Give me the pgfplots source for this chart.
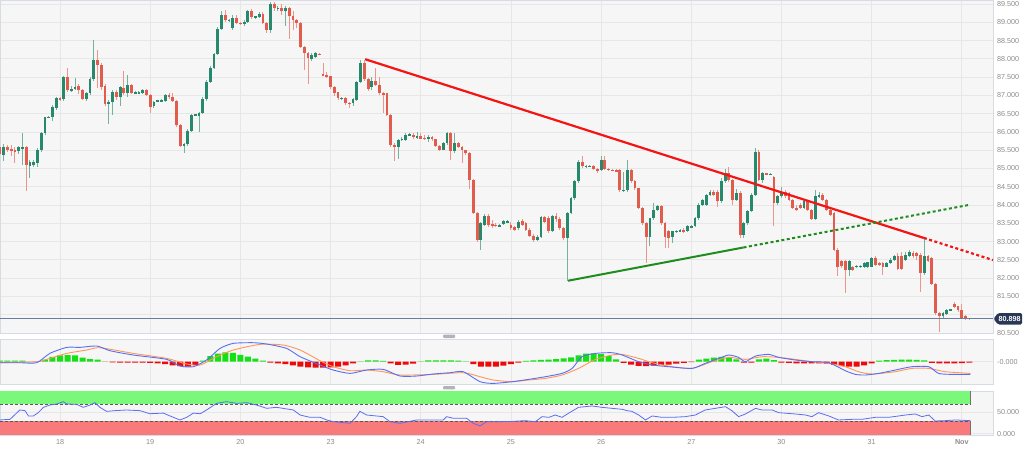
\documentclass[border=0pt]{standalone}
\usepackage{pgfplots}
\pgfplotsset{compat=1.18}
\usepackage{pgfplotstable}
\usepackage{fontspec}
\setmainfont{Liberation Sans}
\definecolor{bgcol}{RGB}{246,246,246}
\definecolor{gridcol}{RGB}{231,231,231}
\definecolor{bordercol}{RGB}{214,219,228}
\definecolor{upcol}{RGB}{38,137,108}
\definecolor{dncol}{RGB}{226,92,78}
\definecolor{lblcol}{RGB}{140,140,140}
\definecolor{tagcol}{RGB}{40,56,86}
\definecolor{pricecol}{RGB}{105,125,160}
\definecolor{trred}{RGB}{245,20,20}
\definecolor{trgreen}{RGB}{30,140,30}
\definecolor{macdblue}{RGB}{90,110,245}
\definecolor{macdorange}{RGB}{255,150,90}
\definecolor{histgreen}{RGB}{20,225,20}
\definecolor{histred}{RGB}{238,10,10}
\definecolor{bandgreen}{RGB}{122,248,122}
\definecolor{bandred}{RGB}{248,122,122}
\definecolor{handlecol}{RGB}{180,180,180}

\pgfplotstableread{
t o h l c
-16 85.60 85.65 85.25 85.40
-15 85.37 85.68 85.20 85.60
-14 85.60 85.64 85.45 85.51
-13 85.53 85.64 85.33 85.50
-12 85.50 85.58 85.15 85.47
-11 85.47 85.62 85.40 85.58
-10 85.55 85.96 85.10 85.60
-9 85.60 85.62 84.39 85.10
-8 85.06 85.23 84.74 85.19
-7 85.10 85.22 85.05 85.17
-6 85.15 85.55 85.05 85.51
-5 85.51 86.01 85.45 85.98
-4 85.98 86.42 85.93 86.40
-3 86.40 86.44 86.38 86.41
-2 86.40 86.73 86.30 86.68
-1 86.65 86.97 86.60 86.94
0 86.92 86.96 86.85 86.90
1 86.90 87.52 86.85 87.50
2 87.50 87.74 87.10 87.15
3 87.15 87.25 87.10 87.17
4 87.17 87.47 87.14 87.24
5 87.26 87.30 87.05 87.15
6 87.15 87.18 86.88 86.90
7 86.90 87.10 86.85 87.06
8 87.06 87.50 87.00 87.45
9 87.45 88.52 87.40 87.97
10 87.97 88.24 87.20 87.83
11 87.83 87.88 87.15 87.24
12 87.26 87.30 86.70 86.76
13 86.76 86.88 86.22 86.83
14 86.83 87.14 86.47 87.10
15 87.10 87.14 86.88 86.95
16 86.97 87.26 86.72 87.22
17 87.20 87.68 87.00 87.06
18 87.06 87.56 86.95 87.29
19 87.29 87.32 87.05 87.08
20 87.08 87.12 87.04 87.08
21 87.08 87.11 87.05 87.08
22 87.08 87.18 87.05 87.15
23 87.15 87.17 86.98 87.01
24 87.01 87.03 86.51 86.69
25 86.71 86.86 86.65 86.83
26 86.85 86.88 86.82 86.86
27 86.86 86.89 86.83 86.86
28 86.85 87.05 86.82 87.02
29 87.02 87.06 86.90 86.95
30 86.95 87.07 86.83 86.86
31 86.86 86.88 86.15 86.19
32 86.19 86.22 85.58 85.62
33 85.62 85.70 85.42 85.67
34 85.67 86.07 85.63 86.03
35 86.03 86.50 86.00 86.47
36 86.47 86.50 86.43 86.47
37 86.44 86.55 86.01 86.51
38 86.51 86.95 86.48 86.90
39 86.90 87.42 86.85 87.38
40 87.38 87.80 87.35 87.76
41 87.76 88.17 87.72 88.13
42 88.13 88.87 88.10 88.83
43 88.83 89.30 88.80 89.20
44 89.20 89.34 89.00 89.05
45 89.05 89.08 89.01 89.05
46 88.84 89.20 88.80 89.11
47 89.11 89.20 88.95 88.99
48 88.99 89.00 88.93 88.95
49 88.95 89.05 88.90 89.02
50 89.02 89.33 88.98 89.31
51 89.31 89.36 89.10 89.15
52 89.15 89.18 89.10 89.15
53 89.15 89.27 89.12 89.24
54 89.24 89.28 88.95 88.99
55 88.99 89.02 88.70 88.79
56 88.79 89.55 88.70 89.50
57 89.50 89.55 89.30 89.38
58 89.38 89.45 89.30 89.38
59 89.40 89.50 89.20 89.32
60 89.32 89.45 88.90 89.40
61 89.40 89.42 88.54 89.18
62 89.18 89.30 88.80 89.05
63 89.05 89.10 88.85 88.97
64 88.97 89.00 88.30 88.33
65 88.33 88.36 87.70 88.17
66 88.17 88.20 87.31 88.02
67 87.99 88.15 87.95 88.11
68 88.05 88.18 88.02 88.15
69 88.13 88.15 88.10 88.12
70 87.59 87.90 87.52 87.55
71 87.55 87.65 87.48 87.52
72 87.52 87.54 87.18 87.22
73 87.22 87.25 86.98 87.08
74 87.08 87.10 86.88 86.92
75 86.92 86.95 86.88 86.92
76 86.92 86.95 86.74 86.79
77 86.80 86.83 86.66 86.78
78 86.79 86.92 86.72 86.89
79 86.88 87.40 86.85 87.38
80 87.38 87.97 87.35 87.90
81 87.90 87.97 87.40 87.44
82 87.44 87.48 87.12 87.17
83 87.22 87.50 87.15 87.40
84 87.40 87.76 87.25 87.29
85 87.29 87.50 87.02 87.06
86 87.06 87.10 86.52 87.03
87 87.06 87.08 86.43 86.47
88 86.47 86.50 85.60 85.65
89 85.65 85.70 85.21 85.58
90 85.60 85.82 85.25 85.78
91 85.78 85.85 85.75 85.82
92 85.78 85.97 85.74 85.93
93 85.93 85.96 85.90 85.93
94 85.93 85.96 85.82 85.85
95 85.85 86.00 85.82 85.90
96 85.90 85.96 85.80 85.82
97 85.83 85.92 85.78 85.82
98 85.80 85.92 85.73 85.86
99 85.86 85.88 85.76 85.80
100 85.80 85.82 85.60 85.62
101 85.62 85.65 85.48 85.51
102 85.52 85.72 85.50 85.69
103 85.69 86.01 85.65 85.97
104 85.97 86.01 85.24 85.47
105 85.47 85.97 85.42 85.69
106 85.69 85.72 85.55 85.60
107 85.60 85.62 85.15 85.50
108 85.50 85.52 85.38 85.42
109 85.42 85.44 84.45 84.69
110 84.69 84.72 83.75 83.78
111 83.78 83.80 83.00 83.05
112 83.05 83.55 82.78 83.51
113 83.46 83.75 83.42 83.69
114 83.69 83.75 83.40 83.46
115 83.48 83.58 83.38 83.43
116 83.45 83.50 83.40 83.44
117 83.44 83.47 83.41 83.44
118 83.48 83.60 83.45 83.57
119 83.55 83.58 83.50 83.55
120 83.46 83.55 83.33 83.37
121 83.40 83.44 83.30 83.33
122 83.37 83.58 83.33 83.55
123 83.57 83.62 83.43 83.46
124 83.50 83.55 83.28 83.33
125 83.33 83.36 83.12 83.16
126 83.16 83.20 83.00 83.05
127 83.05 83.18 83.02 83.14
128 83.14 83.71 83.10 83.67
129 83.67 83.70 83.50 83.55
130 83.66 83.69 83.23 83.28
131 83.28 83.73 83.25 83.69
132 83.69 83.78 83.55 83.62
133 83.62 83.66 83.33 83.37
134 83.37 83.40 83.05 83.10
135 83.10 83.82 81.93 83.78
136 83.78 84.23 83.75 84.19
137 84.19 84.70 84.15 84.65
138 84.65 85.24 84.60 85.19
139 85.19 85.33 85.02 85.06
140 85.06 85.10 85.02 85.07
141 85.07 85.10 85.03 85.07
142 85.06 85.10 84.95 84.98
143 84.98 85.02 84.88 84.92
144 84.97 85.33 84.94 85.24
145 85.24 85.33 84.95 84.99
146 84.99 85.02 84.92 84.96
147 84.97 85.00 84.92 84.95
148 84.95 84.98 84.90 84.94
149 84.96 84.98 84.37 84.40
150 84.38 84.90 84.35 84.42
151 84.40 85.24 84.37 84.96
152 84.96 84.99 84.60 84.65
153 84.65 84.68 84.42 84.46
154 84.46 84.48 83.90 83.92
155 83.92 83.95 83.46 83.51
156 83.51 83.55 82.41 83.14
157 83.14 83.66 82.87 83.64
158 83.64 84.05 83.60 83.87
159 83.87 84.01 83.84 83.98
160 83.98 84.01 83.46 83.51
161 83.51 83.55 82.82 83.13
162 83.28 83.33 82.82 83.10
163 83.12 83.30 82.96 83.28
164 83.28 83.33 83.25 83.29
165 83.30 83.34 83.27 83.31
166 83.33 83.36 83.25 83.28
167 83.28 83.45 83.25 83.42
168 83.40 83.46 83.37 83.42
169 83.42 83.67 83.40 83.64
170 83.64 84.05 83.60 84.01
171 84.01 84.17 83.98 84.14
172 84.01 84.30 83.98 84.28
173 84.28 84.42 84.25 84.37
174 84.37 84.40 84.24 84.28
175 84.37 84.42 83.96 84.10
176 84.10 84.75 84.05 84.65
177 84.65 85.00 84.60 84.87
178 84.89 85.05 84.62 84.69
179 84.69 84.72 84.00 84.14
180 84.14 84.45 84.10 84.33
181 84.33 84.38 83.10 83.19
182 83.19 83.55 83.10 83.51
183 83.51 83.87 83.45 83.83
184 83.83 84.32 83.80 84.28
185 84.28 85.56 84.25 85.46
186 85.46 85.50 84.65 84.69
187 84.69 84.90 84.60 84.87
188 84.86 84.88 84.83 84.85
189 84.85 84.87 84.82 84.85
190 84.78 84.80 83.42 84.05
191 84.05 84.28 84.00 84.24
192 84.24 84.50 84.20 84.37
193 84.37 84.40 84.20 84.24
194 84.33 84.36 84.10 84.14
195 84.14 84.17 83.88 83.92
196 83.92 84.00 83.85 83.87
197 84.01 84.05 83.88 83.92
198 83.92 84.14 83.88 84.10
199 84.10 84.14 83.83 83.87
200 83.87 83.90 83.60 83.62
201 83.62 84.40 83.58 84.24
202 84.24 84.37 84.20 84.28
203 84.28 84.32 84.10 84.14
204 84.14 84.18 83.83 83.87
205 83.87 83.90 83.70 83.73
206 83.78 83.82 82.74 82.78
207 82.78 82.82 82.05 82.32
208 82.46 82.50 82.28 82.32
209 82.46 82.50 81.59 82.23
210 82.23 82.50 82.05 82.46
211 82.31 82.34 82.20 82.23
212 82.31 82.37 82.28 82.34
213 82.32 82.35 82.29 82.32
214 82.31 82.44 82.28 82.41
215 82.31 82.45 82.28 82.43
216 82.32 82.58 82.30 82.55
217 82.55 82.60 82.32 82.37
218 82.41 82.45 82.34 82.37
219 82.41 82.44 82.10 82.32
220 82.32 82.44 82.30 82.41
221 82.41 82.54 82.38 82.51
222 82.49 82.63 82.46 82.60
223 82.60 82.69 82.22 82.25
224 82.60 82.72 82.22 82.25
225 82.51 82.72 82.48 82.64
226 82.60 82.78 82.58 82.71
227 82.69 82.74 82.55 82.60
228 82.69 82.72 82.50 82.60
229 82.64 82.70 81.63 82.14
230 82.14 83.08 82.10 82.60
231 82.60 82.63 82.43 82.46
232 82.55 82.58 81.80 81.85
233 81.85 81.88 80.98 81.05
234 81.05 81.08 80.52 80.96
235 80.96 81.08 80.92 81.05
236 81.03 81.16 81.00 81.14
237 81.14 81.16 81.12 81.14
238 81.30 81.35 81.18 81.21
239 81.23 81.25 81.08 81.12
240 81.12 81.30 80.88 80.91
241 80.96 81.00 80.86 80.89
242 80.90 80.91 80.88 80.898
}\candles

\pgfplotstableread{
t v
-16 -0.025
-10.7 -0.025
-6.2 -0.025
-2.7 0.208
1.8 0.358
5.3 0.358
9.8 0.392
13.3 0.275
19.5 0.167
28.4 0.058
31.9 -0.108
35.5 -0.125
39.0 0.042
42.6 0.333
46.1 0.458
51.4 0.475
55.0 0.442
60.3 0.333
63.9 0.125
69.2 -0.083
72.7 -0.208
77.2 -0.292
81.6 -0.208
86.0 -0.192
90.5 -0.358
94.9 -0.358
99.3 -0.308
103.8 -0.275
107.3 -0.25
111.8 -0.5
115.3 -0.542
120.3 -0.5
124.7 -0.442
129.2 -0.375
133.6 -0.292
136.3 -0.167
138.9 0.125
142.5 0.208
146.9 0.225
149.6 0.167
154.0 0
157.6 -0.083
162.0 -0.125
168.2 -0.167
171.7 -0.042
175.3 0.083
178.0 0.167
180.6 0.108
182.4 0
185.1 0.142
188.6 0.183
191.3 0.108
195.7 0.042
200.1 0
204.6 -0.025
209.0 -0.225
211.7 -0.317
214.3 -0.333
217.9 -0.292
222.3 -0.208
226.7 -0.125
231.2 -0.125
233.8 -0.292
237.4 -0.317
242.3 -0.317
}\macdline

\pgfplotstableread{
t v
-16 -0.025
-6.2 0
-2.7 0.083
1.8 0.208
7.1 0.292
10.6 0.35
19.5 0.208
28.4 0.083
33.7 -0.058
37.3 -0.083
41.7 0.125
46.1 0.292
53.2 0.433
59.4 0.417
63.9 0.292
69.2 0.025
72.7 -0.125
77.2 -0.225
81.6 -0.208
86.0 -0.25
90.5 -0.333
99.3 -0.317
107.3 -0.275
111.8 -0.375
115.3 -0.458
120.3 -0.5
124.7 -0.458
129.2 -0.417
133.6 -0.333
138.0 -0.167
142.5 0.058
146.9 0.167
149.6 0.183
154.0 0.083
157.6 -0.025
162.9 -0.125
168.2 -0.167
173.5 0
178.0 0.108
182.4 0.058
186.8 0.125
191.3 0.108
195.7 0.058
200.1 0
204.6 -0.042
209.0 -0.125
212.5 -0.25
216.1 -0.308
222.3 -0.25
226.7 -0.167
231.2 -0.167
235.6 -0.25
242.3 -0.292
}\macdsig

\pgfplotstableread{
t v
-16 0.03
-14 0.03
-12 0.03
-10 0.025
-8 0.005
-6 0.01
-4 0.05
-2 0.12
0 0.16
2 0.167
4 0.16
6 0.1
8 0.065
10 0.055
12 0.0
14 -0.017
16 -0.025
18 -0.025
20 -0.025
22 -0.025
24 -0.03
26 -0.042
28 -0.06
30 -0.09
32 -0.11
34 -0.125
36 -0.08
38 0.03
40 0.14
42 0.2
44 0.233
46 0.22
48 0.17
50 0.13
52 0.08
54 0.03
56 -0.02
58 -0.04
60 -0.06
62 -0.09
64 -0.12
66 -0.14
68 -0.15
70 -0.15
72 -0.14
74 -0.12
76 -0.09
78 -0.04
80 0.01
82 0.033
84 0.033
86 0.02
88 -0.04
90 -0.08
92 -0.07
94 -0.05
96 0.01
98 0.033
100 0.033
102 0.033
104 0.033
106 0.03
108 0.01
110 -0.06
112 -0.12
114 -0.125
116 -0.125
118 -0.1
120 -0.06
122 -0.02
124 0.02
126 0.035
128 0.045
130 0.055
132 0.065
134 0.085
136 0.11
138 0.16
140 0.2
142 0.208
144 0.19
146 0.14
148 0.06
150 -0.03
152 -0.07
154 -0.105
156 -0.108
158 -0.1
160 -0.085
162 -0.07
164 -0.05
166 -0.03
168 -0.01
170 0.05
172 0.075
174 0.1
176 0.118
178 0.1
180 0.06
182 -0.025
184 -0.02
186 0.06
188 0.08
190 0.04
192 -0.025
194 -0.03
196 -0.04
198 -0.04
200 -0.042
202 -0.042
204 -0.05
206 -0.08
208 -0.11
210 -0.125
212 -0.12
214 -0.09
216 -0.04
218 0.03
220 0.04
222 0.045
224 0.05
226 0.05
228 0.045
230 0.035
232 -0.03
234 -0.042
236 -0.042
238 -0.04
240 -0.035
242 -0.025
}\hist

\pgfplotstableread{
t v
-16.0 32.4
-13.3 33.9
-10.7 55.9
-9.3 54.3
-8.4 41.8
-7.1 41.8
-5.8 49.6
-4.4 62.2
-2.7 67.6
-0.9 70.0
0.9 75.5
1.8 70.0
4.4 69.2
6.2 62.2
8.0 67.6
9.3 73.1
10.6 62.2
12.4 52.7
14.6 54.3
17.7 55.9
21.3 54.3
23.9 47.1
27.5 48.6
29.3 41.8
31.9 32.4
33.7 38.6
35.5 48.6
37.3 47.1
39.0 55.9
41.7 71.6
44.3 75.5
47.0 71.6
49.7 73.1
52.3 67.6
55.0 59.8
57.6 62.2
62.1 55.9
63.9 44.1
66.5 38.6
69.2 38.6
71.0 32.4
72.7 28.4
77.2 24.5
78.9 40.2
79.8 52.7
81.6 44.1
86.0 40.2
87.8 28.4
90.5 24.5
94.9 32.4
99.3 32.4
102.0 32.4
102.9 40.2
104.7 36.3
108.2 36.3
110.0 24.5
111.8 18.2
113.5 28.4
117.1 28.4
120.3 29.0
123.8 30.8
126.5 28.4
128.3 40.2
130.1 38.6
131.8 44.1
133.6 38.6
135.4 48.6
138.0 62.2
141.6 65.3
144.2 62.2
146.9 59.8
149.6 57.5
150.9 54.3
152.2 52.7
154.0 44.1
155.8 32.4
157.6 41.8
160.2 38.6
162.9 38.6
166.4 40.2
169.1 44.1
171.7 55.9
174.4 59.8
177.1 63.7
178.8 54.3
180.6 40.2
182.4 46.5
185.1 59.8
186.8 55.9
189.5 55.9
191.3 49.6
195.7 46.5
198.4 44.1
200.1 40.2
201.9 49.6
204.6 41.8
207.2 32.4
210.8 33.9
213.4 33.9
215.2 36.3
217.0 38.6
220.5 38.6
223.2 41.8
225.0 44.1
227.6 46.5
229.4 40.2
231.2 44.1
232.9 30.0
235.6 30.8
238.3 32.4
242.3 30.8
}\rsi

\pgfplotsset{
  panel/.style={
    scale only axis, width=993pt,
    xmin=-15.97, xmax=248.3,
    axis background/.style={fill=bgcol},
    axis line style={draw=bordercol, line width=0.8pt},
    grid=major, grid style={draw=gridcol, line width=0.8pt},
    major tick length=0pt,
    xtick={0,24,48,72,96,120,144,168,192,216,240},
    xticklabels={},
    yticklabel pos=right,
    yticklabel style={anchor=west, font=\fontsize{7.2}{8.6}\selectfont, text=lblcol, inner sep=0pt, xshift=4pt},
  },
  candle/.style={forget plot, only marks, mark=*, mark size=0pt,
    mark options={draw opacity=0, fill opacity=0},
    error bars/.cd, y dir=both, y explicit, error mark=none},
}

\begin{document}
\begin{tikzpicture}
\useasboundingbox (0,0) rectangle (1024pt,448pt);
\fill[white] (0,0) rectangle (1024pt,448pt);

% ---------------- main price panel
\begin{axis}[panel, at={(0pt,115pt)}, anchor=south west, height=333pt,
  ymin=80.50, ymax=89.61,
  ytick={80.5,81,81.5,82,82.5,83,83.5,84,84.5,85,85.5,86,86.5,87,87.5,88,88.5,89,89.5},
  yticklabels={80.500,,81.500,82.000,82.500,83.000,83.500,84.000,84.500,85.000,85.500,86.000,86.500,87.000,87.500,88.000,88.500,89.000,89.500},
]
% wicks
\addplot[restrict expr to domain={\thisrow{c}-\thisrow{o}}{0:100},
  candle, error bar style={upcol!65, line width=0.9pt, opacity=1}]
  table[x=t, y expr={(\thisrow{h}+\thisrow{l})/2}, y error expr={(\thisrow{h}-\thisrow{l})/2}] {\candles};
\addplot[restrict expr to domain={\thisrow{o}-\thisrow{c}}{0.00001:100},
  candle, error bar style={dncol!65, line width=0.9pt, opacity=1}]
  table[x=t, y expr={(\thisrow{h}+\thisrow{l})/2}, y error expr={(\thisrow{h}-\thisrow{l})/2}] {\candles};
% bodies
\addplot[restrict expr to domain={\thisrow{c}-\thisrow{o}}{0:100},
  candle, error bar style={upcol, line width=2.8pt, opacity=1}]
  table[x=t, y expr={(\thisrow{o}+\thisrow{c})/2}, y error expr={max(abs(\thisrow{c}-\thisrow{o})/2,0.012)}] {\candles};
\addplot[restrict expr to domain={\thisrow{o}-\thisrow{c}}{0.00001:100},
  candle, error bar style={dncol, line width=2.8pt, opacity=1}]
  table[x=t, y expr={(\thisrow{o}+\thisrow{c})/2}, y error expr={max(abs(\thisrow{c}-\thisrow{o})/2,0.012)}] {\candles};
% current price line
\addplot[pricecol, line width=0.9pt] coordinates {(-15.97,80.898) (248.3,80.898)};
% trend lines
\addplot[trred, line width=2.2pt] coordinates {(81.2,87.99) (229.9,83.10)};
\addplot[trred, line width=2.2pt, dash pattern=on 3pt off 2.5pt] coordinates {(229.9,83.10) (248.3,82.495)};
\addplot[trgreen, line width=2pt] coordinates {(135.2,81.93) (181.9,82.84)};
\addplot[trgreen, line width=2pt, dash pattern=on 3pt off 2.5pt] coordinates {(181.9,82.84) (242.2,84.01)};
\end{axis}

% ---------------- MACD panel
\begin{axis}[panel, at={(0pt,64pt)}, anchor=south west, height=45pt,
  ymin=-0.5575, ymax=0.5675, ytick={0}, yticklabels={-0.000}]
\addplot[ybar, bar width=1.6, bar shift=0pt, fill=histgreen, draw=none, restrict y to domain=0:1] table[x=t,y=v] {\hist};
\addplot[ybar, bar width=1.6, bar shift=0pt, fill=histred, draw=none, restrict y to domain=-1:0] table[x=t,y=v] {\hist};
\addplot[macdorange, line width=0.9pt, smooth, tension=0.4] table[x=t,y=v] {\macdsig};
\addplot[macdblue, line width=0.9pt, smooth, tension=0.4] table[x=t,y=v] {\macdline};
\end{axis}

% ---------------- RSI panel
\begin{axis}[panel, at={(0pt,13pt)}, anchor=south west, height=44pt,
  ymin=-3, ymax=100.6, ytick={0,50}, yticklabels={0.000,50.000},
  xticklabels={18,19,20,23,24,25,26,27,30,31,\textbf{Nov}},
  xticklabel style={font=\fontsize{7.2}{8.6}\selectfont, text=lblcol, inner sep=0pt, yshift=-4pt}]
\addplot[fill=bandgreen, draw=none] coordinates {(-16,70) (242.3,70) (242.3,101) (-16,101)};
\addplot[fill=bandred, draw=none] coordinates {(-16,-4) (242.3,-4) (242.3,30) (-16,30)};
\addplot[black!65, line width=0.6pt, densely dashed] coordinates {(-16,70) (242.3,70)};
\addplot[black!65, line width=0.6pt, densely dashed] coordinates {(-16,30) (242.3,30)};
\addplot[black!55, line width=0.8pt] coordinates {(242.3,70) (242.3,101)};
\addplot[black!55, line width=0.8pt] coordinates {(242.3,-4) (242.3,30)};
\addplot[macdblue, line width=0.8pt] table[x=t,y=v] {\rsi};
\end{axis}

% panel handles
\fill[handlecol, rounded corners=1pt] (443pt,110pt) rectangle (455pt,113.5pt);
\fill[handlecol, rounded corners=1pt] (443pt,58.6pt) rectangle (455pt,62pt);
% price tag
\fill[tagcol, rounded corners=1.5pt] (993.5pt,129.2pt) -- (998pt,135pt) -- (1022pt,135pt) -- (1022pt,123.4pt) -- (998pt,123.4pt) -- cycle;
\node[text=white, font=\fontsize{7.2}{8.6}\selectfont\bfseries, inner sep=0pt, anchor=west] at (998.5pt,129.2pt) {80.898};
\end{tikzpicture}
\end{document}
